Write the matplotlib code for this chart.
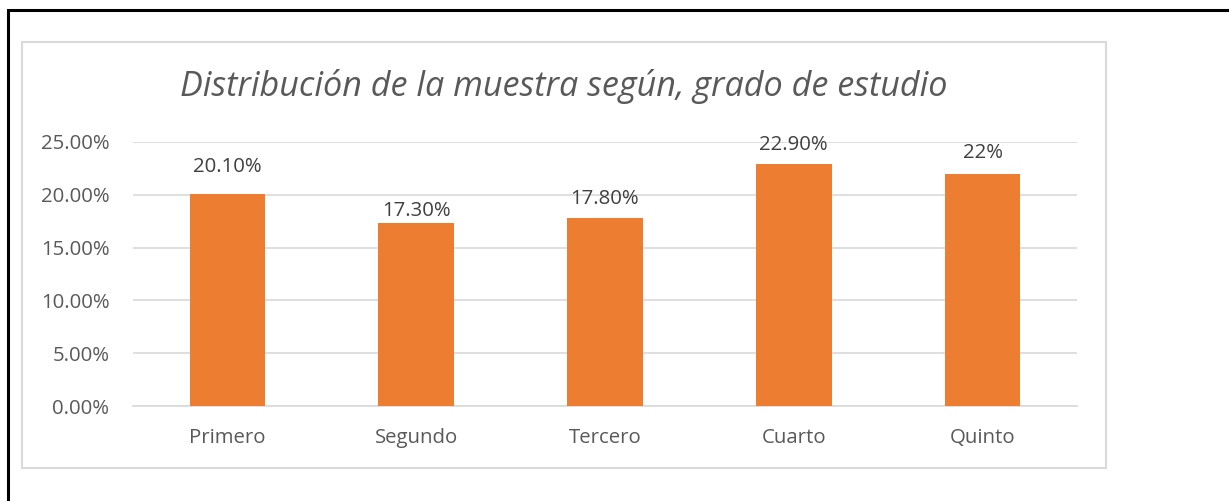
import numpy as np
import matplotlib
matplotlib.use("Agg")
import matplotlib.pyplot as plt
import matplotlib.patches as patches
from matplotlib.ticker import FuncFormatter

categorias = ["Primero", "Segundo", "Tercero", "Cuarto", "Quinto"]
valores = [20.1, 17.3, 17.8, 22.9, 22.0]
etiquetas = ["20.10%", "17.30%", "17.80%", "22.90%", "22%"]

# label placement above each bar (pixels, as positioned by hand in the original)
desplaz_px = [27, 12, 19, 19, 20.5]

W, H = 1229, 501
fig = plt.figure(figsize=(W / 100, H / 100), dpi=100)
plt.rcParams["font.family"] = ["Open Sans", "DejaVu Sans"]

# outer black frame and light grey chart frame
fig.patches.append(patches.Rectangle((8 / W, -0.05), 1.1, (H - 10) / H + 0.05,
                                     transform=fig.transFigure, fill=False,
                                     edgecolor="black", linewidth=2.2))
fig.patches.append(patches.Rectangle((22 / W, 1 - 468 / H), (1106 - 22) / W, (468 - 42) / H,
                                     transform=fig.transFigure, fill=False,
                                     edgecolor="#d9d9d9", linewidth=1.5))

ax = fig.add_axes([133 / W, 1 - 406 / H, (1077 - 133) / W, (406 - 142) / H])
x = np.arange(len(categorias))
ax.bar(x, valores, width=0.40, color="#ed7d31", zorder=3)
ax.set_xlim(-0.5, len(categorias) - 0.5)
ax.set_ylim(0, 25)
ax.set_yticks(np.arange(0, 26, 5))
ax.yaxis.set_major_formatter(FuncFormatter(lambda v, p: f"{v:.2f}%"))
ax.set_xticks(x)
ax.set_xticklabels(categorias)
ax.grid(axis="y", color="#d9d9d9", linewidth=1.2, zorder=0)
for s in ["top", "right", "left"]:
    ax.spines[s].set_visible(False)
ax.spines["bottom"].set_color("#d9d9d9")
ax.spines["bottom"].set_linewidth(1.2)
ax.tick_params(length=0, colors="#595959", labelsize=14.7)
ax.tick_params(axis="y", pad=17)
ax.tick_params(axis="x", pad=16)

for xi, v, t, d in zip(x, valores, etiquetas, desplaz_px):
    ax.annotate(t, (xi, v), xytext=(0, d * 0.72), textcoords="offset points",
                ha="center", va="center", fontsize=14.7, color="#404040")

fig.text(564 / W, 1 - 87 / H, "Distribución de la muestra según, grado de estudio",
         ha="center", va="center", fontsize=24.6, style="italic", color="#595959")

fig.savefig("out.png", dpi=100)
